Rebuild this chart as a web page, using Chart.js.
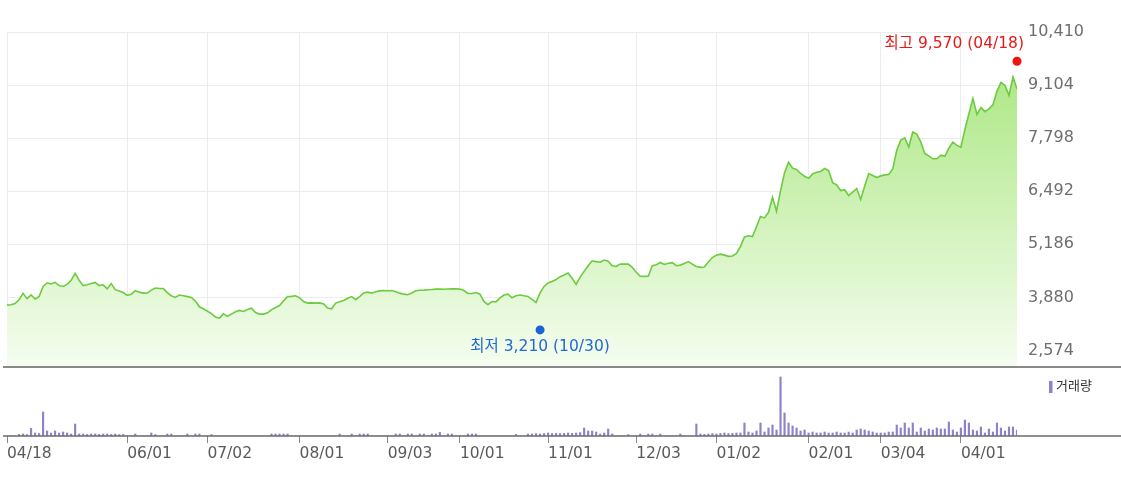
<!DOCTYPE html>
<html>
<head>
<meta charset="utf-8">
<script src="https://cdn.jsdelivr.net/npm/chart.js@4.4.1/dist/chart.umd.min.js"></script>
<style>
  html, body { margin: 0; padding: 0; background: #fff; }
  #wrap { position: relative; width: 1121px; height: 481px; }
  #wrap canvas { position: absolute; left: 0; top: 0; }
</style>
</head>
<body>
<div id="wrap">
  <canvas id="priceChart" width="1121" height="481"></canvas>
  <canvas id="volChart" width="1121" height="481"></canvas>
</div>
<script>
// one value per trading day, 04/18 -> 04/18 next year
const price = [
  3690, 3700, 3730, 3820, 3980, 3850, 3940, 3840, 3900, 4150,
  4240, 4210, 4250, 4170, 4150, 4200, 4300, 4470, 4300, 4170,
  4190, 4220, 4250, 4170, 4190, 4090, 4220, 4070, 4040, 4000,
  3930, 3960, 4045, 4010, 3985, 3988, 4060, 4110, 4100, 4100,
  4000, 3920, 3880, 3940, 3920, 3900, 3880, 3790, 3650, 3600,
  3540, 3480, 3400, 3370, 3475, 3415, 3470, 3525, 3560, 3535,
  3580, 3615, 3510, 3470, 3470, 3500, 3580, 3630, 3680, 3800,
  3900, 3905, 3920, 3870, 3780, 3740, 3745, 3740, 3745, 3720,
  3620, 3600, 3740, 3775, 3805, 3860, 3900, 3823, 3900, 3990,
  4010, 3985, 4020, 4040, 4050, 4045, 4050, 4020, 3985, 3960,
  3945, 3990, 4045, 4055, 4060, 4070, 4075, 4085, 4085, 4080,
  4087, 4090, 4094, 4085, 4050, 3980, 3975, 4000, 3960, 3780,
  3700, 3780, 3770, 3870, 3940, 3960, 3870, 3920, 3940, 3920,
  3905, 3830, 3757, 3990, 4150, 4235, 4270, 4320, 4390, 4430,
  4480, 4350, 4200, 4380, 4520, 4660, 4780, 4760, 4745, 4800,
  4770, 4660, 4640, 4700, 4703, 4700, 4620, 4500, 4400, 4397,
  4400, 4660, 4686, 4740, 4690, 4720, 4735, 4660, 4675, 4715,
  4760, 4700, 4640, 4620, 4630, 4750, 4860, 4920, 4945, 4920,
  4890, 4900, 4960, 5130, 5368, 5395, 5375, 5620, 5870, 5836,
  5974, 6344, 6000, 6500, 6950, 7206, 7060, 7030, 6930, 6860,
  6810, 6920, 6960, 6980, 7051, 7000, 6705, 6650, 6510, 6530,
  6386, 6470, 6559, 6288, 6620, 6928, 6880, 6830, 6870, 6895,
  6903, 7040, 7500, 7750, 7806, 7580, 7950, 7900, 7700, 7420,
  7360, 7290, 7290, 7380, 7350, 7550, 7700, 7620, 7570, 8011,
  8400, 8776, 8382, 8550, 8450, 8520, 8620, 8950, 9170, 9100,
  8850, 9300, 9005
];

const volume = [
  0, 0, 0, 80, 100, 70, 380, 150, 120, 1200,
  250, 150, 250, 150, 200, 150, 100, 600, 100, 100,
  80, 100, 100, 80, 100, 100, 80, 100, 70, 80,
  0, 0, 100, 0, 0, 0, 150, 70, 0, 0,
  100, 100, 0, 0, 0, 100, 0, 100, 100, 0,
  0, 70, 0, 0, 0, 0, 0, 0, 0, 0,
  0, 0, 0, 0, 0, 0, 100, 100, 100, 100,
  100, 0, 0, 0, 0, 0, 0, 0, 0, 0,
  0, 0, 0, 100, 0, 0, 100, 0, 100, 100,
  100, 0, 0, 0, 0, 0, 0, 100, 100, 0,
  100, 100, 0, 100, 100, 0, 100, 100, 180, 0,
  100, 100, 0, 0, 0, 100, 100, 100, 0, 0,
  0, 0, 0, 0, 0, 0, 0, 80, 0, 0,
  100, 100, 120, 100, 120, 150, 120, 130, 120, 130,
  150, 130, 150, 170, 400, 250, 250, 200, 100, 150,
  350, 100, 0, 0, 0, 70, 0, 0, 100, 0,
  100, 100, 0, 100, 0, 0, 0, 0, 100, 0,
  0, 0, 600, 100, 80, 100, 120, 100, 130, 150,
  120, 130, 150, 150, 650, 200, 150, 250, 650, 200,
  400, 550, 300, 2950, 1150, 650, 500, 400, 250, 300,
  150, 200, 150, 150, 200, 150, 150, 200, 150, 150,
  200, 150, 300, 350, 300, 250, 200, 150, 150, 150,
  200, 200, 550, 400, 650, 400, 650, 200, 400, 250,
  350, 300, 400, 350, 350, 700, 300, 200, 400, 800,
  650, 300, 250, 450, 150, 350, 200, 650, 400, 250,
  450, 450, 300
];

const tickIdx = [0, 30, 50, 73, 95, 113, 135, 157, 177, 200, 218, 238];
const tickLabels = ["04/18", "06/01", "07/02", "08/01", "09/03", "10/01", "11/01", "12/03", "01/02", "02/01", "03/04", "04/01"];
const priceTicks = [2574, 3880, 5186, 6492, 7798, 9104, 10410];

// high / low markers
const highIdx = 252, highDot = 9690, highText = "최고 9,570 (04/18)";
const lowIdx = 133, lowDot = 3080, lowText = "최저 3,210 (10/30)";

const FONT = "'DejaVu Sans', 'Noto Sans CJK KR', sans-serif";
const lastIdx = price.length - 1;

const fullLine = {
  id: 'fullLine',
  afterDraw(chart, args, opts) {
    const c = chart.ctx;
    const y = chart.chartArea.bottom;
    c.save();
    c.strokeStyle = opts.color;
    c.lineWidth = opts.width;
    c.beginPath();
    c.moveTo(3, y);
    c.lineTo(chart.width, y);
    c.stroke();
    c.restore();
  }
};

const markLabels = {
  id: 'markLabels',
  afterDatasetsDraw(chart) {
    const pts = chart.getDatasetMeta(1).data;
    const c = chart.ctx;
    c.save();
    c.font = "15.5px " + FONT;
    c.textBaseline = 'middle';
    c.fillStyle = '#e81919';
    c.textAlign = 'right';
    c.fillText(highText, pts[0].x + 7, pts[0].y - 17);
    c.fillStyle = '#2468d4';
    c.textAlign = 'center';
    c.fillText(lowText, pts[1].x, pts[1].y + 17);
    c.restore();
  }
};

const volLegend = {
  id: 'volLegend',
  afterDraw(chart) {
    const c = chart.ctx;
    const x = chart.chartArea.right + 32;
    const y = chart.chartArea.top + 15;
    c.save();
    c.fillStyle = '#8d82c9';
    c.fillRect(x, y - 6, 3.5, 12);
    c.fillStyle = '#333';
    c.font = "13px " + FONT;
    c.textBaseline = 'middle';
    c.fillText("거래량", x + 7, y);
    c.restore();
  }
};

new Chart(document.getElementById('priceChart'), {
  type: 'line',
  data: {
    datasets: [
      {
        data: price.map((v, i) => ({ x: i, y: v })),
        borderColor: '#6ccb3f',
        borderWidth: 1.6,
        pointRadius: 0,
        tension: 0,
        fill: 'start',
        order: 2,
        backgroundColor: (ctx) => {
          const area = ctx.chart.chartArea;
          if (!area) return 'rgba(0,0,0,0)';
          const g = ctx.chart.ctx.createLinearGradient(0, area.top, 0, area.bottom);
          g.addColorStop(0, '#a4e577');
          g.addColorStop(1, '#f5fdf0');
          return g;
        },
      },
      {
        data: [{ x: highIdx, y: highDot }, { x: lowIdx, y: lowDot }],
        showLine: false,
        order: 1,
        clip: false,
        pointRadius: 4.5,
        pointBackgroundColor: ['#f01515', '#1a62d8'],
        pointBorderWidth: 0,
      },
    ],
  },
  options: {
    responsive: false,
    animation: false,
    events: [],
    layout: { padding: { top: 32, left: 7, right: 0, bottom: 114 } },
    plugins: {
      legend: { display: false },
      tooltip: { enabled: false },
      fullLine: { color: '#8a8a8a', width: 2 },
    },
    scales: {
      x: {
        type: 'linear',
        min: 0,
        max: lastIdx,
        afterBuildTicks: (s) => { s.ticks = tickIdx.map((v) => ({ value: v })); },
        afterFit: (s) => { s.height = 0; },
        ticks: { display: false },
        grid: { color: '#ececec', drawTicks: false },
        border: { display: false },
      },
      y: {
        position: 'right',
        min: 2168,
        max: 10410,
        afterBuildTicks: (s) => { s.ticks = priceTicks.map((v) => ({ value: v })); },
        afterFit: (s) => { s.width = 104; },
        ticks: {
          color: '#6e6e6e',
          padding: 11,
          font: { family: FONT, size: 16 },
          callback: (v) => v.toLocaleString('en-US'),
        },
        grid: { color: '#ececec', drawTicks: false },
        border: { display: false },
      },
    },
  },
  plugins: [markLabels, fullLine],
});

new Chart(document.getElementById('volChart'), {
  type: 'bar',
  data: {
    datasets: [{
      data: volume.map((v, i) => ({ x: i, y: v })),
      backgroundColor: '#8d82c9',
      barThickness: 1.5,
    }],
  },
  options: {
    responsive: false,
    animation: false,
    events: [],
    layout: { padding: { top: 372, left: 7, right: 104, bottom: 0 } },
    plugins: {
      legend: { display: false },
      tooltip: { enabled: false },
      fullLine: { color: '#6a6a6a', width: 1.5 },
    },
    scales: {
      x: {
        type: 'linear',
        min: 0,
        max: lastIdx,
        offset: false,
        afterBuildTicks: (s) => { s.ticks = tickIdx.map((v) => ({ value: v })); },
        afterFit: (s) => { s.height = 45; },
        ticks: {
          align: 'start',
          color: '#5a5a5a',
          padding: 2,
          maxRotation: 0,
          autoSkip: false,
          font: { family: FONT, size: 15.5 },
          callback: (v) => tickLabels[tickIdx.indexOf(v)],
        },
        grid: { offset: false, drawOnChartArea: false, drawTicks: true, tickLength: 7, color: '#888' },
        border: { display: false },
      },
      y: { display: false, min: 0, max: 3200 },
    },
  },
  plugins: [volLegend, fullLine],
});
</script>
</body>
</html>
